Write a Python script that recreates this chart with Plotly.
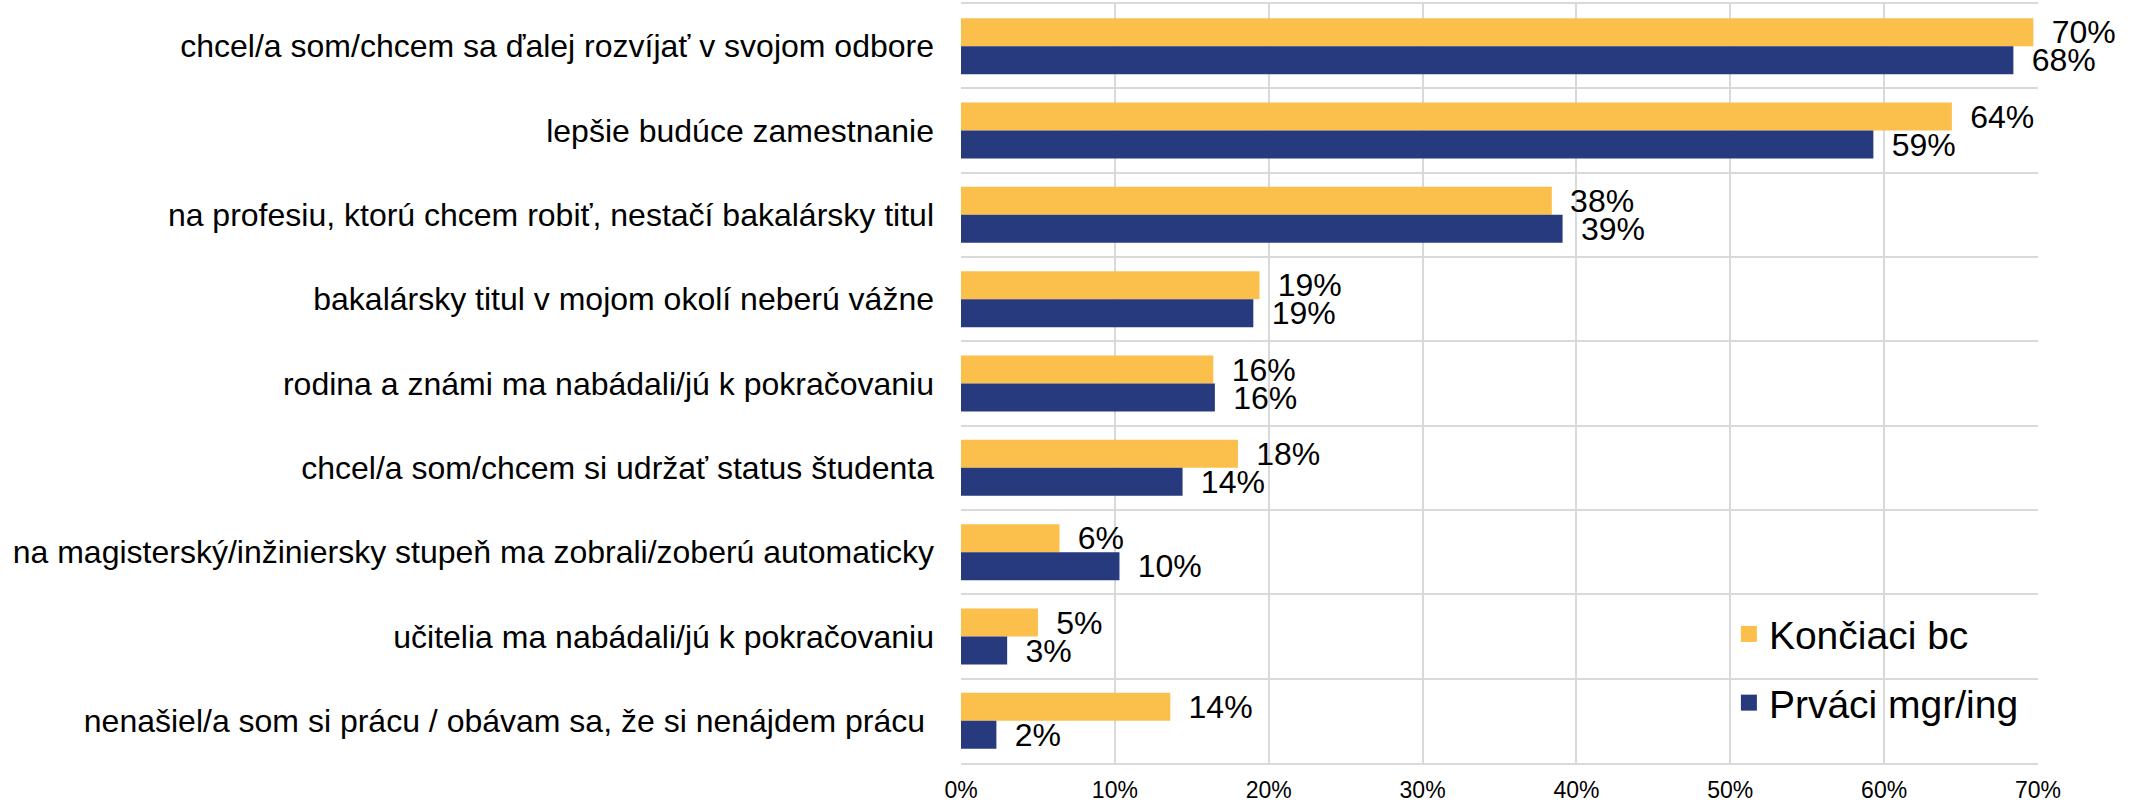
import plotly.graph_objects as go

categories = [
    "chcel/a som/chcem sa ďalej rozvíjať v svojom odbore",
    "lepšie budúce zamestnanie",
    "na profesiu, ktorú chcem robiť, nestačí bakalársky titul",
    "bakalársky titul v mojom okolí neberú vážne",
    "rodina a známi ma nabádali/jú k pokračovaniu",
    "chcel/a som/chcem si udržať status študenta",
    "na magisterský/inžiniersky stupeň ma zobrali/zoberú automaticky",
    "učitelia ma nabádali/jú k pokračovaniu",
    "nenašiel/a som si prácu / obávam sa, že si nenájdem prácu ",
]
koncaci_bc = [69.7, 64.4, 38.4, 19.4, 16.4, 18.0, 6.4, 5.0, 13.6]
prvaci_mgr = [68.4, 59.3, 39.1, 19.0, 16.5, 14.4, 10.3, 3.0, 2.3]
series_names = ["Končiaci bc", "Prváci mgr/ing"]
x_ticks = [0, 10, 20, 30, 40, 50, 60, 70]
x_ticktext = [f"{t}%" for t in x_ticks]

colors = ["#FBBF4C", "#283A7E"]
FONT = "Arial, 'Liberation Sans', sans-serif"
pos = list(range(len(categories)))

fig = go.Figure()
for name, vals, col in zip(series_names, [koncaci_bc, prvaci_mgr], colors):
    fig.add_trace(go.Bar(
        y=pos, x=vals, orientation="h", name=name, legendgroup=name,
        showlegend=False,
        marker=dict(color=col, line=dict(width=0)),
        text=[f"\u00a0\u2009{round(v)}%" for v in vals],
        textposition="outside", constraintext="none", cliponaxis=False,
        textfont=dict(family=FONT, size=32, color="#000000"),
        hoverinfo="x+name",
    ))
# legend entries with larger square keys
for name, col in zip(series_names, colors):
    fig.add_trace(go.Scatter(
        x=[None], y=[None], mode="markers", name=name, legendgroup=name,
        marker=dict(symbol="square", size=21, color=col), hoverinfo="skip",
    ))

fig.update_layout(
    width=2138, height=804,
    margin=dict(l=961, r=100, t=4, b=41),
    paper_bgcolor="white", plot_bgcolor="white",
    barmode="group", bargap=0.336, bargroupgap=0,
    font=dict(family=FONT, color="#000000"),
    legend=dict(
        x=0.713, y=0.212, xanchor="left", yanchor="top",
        font=dict(family=FONT, size=39, color="#000000"),
        bgcolor="rgba(0,0,0,0)", traceorder="grouped", tracegroupgap=15,
    ),
    showlegend=True,
)
fig.update_xaxes(
    range=[0, 70], tickvals=x_ticks, ticktext=x_ticktext, automargin=False,
    showgrid=True, gridcolor="#D9D9D9", gridwidth=2,
    zeroline=False, showline=True, linecolor="#D9D9D9", linewidth=2, mirror=True,
    tickfont=dict(family=FONT, size=23, color="#000000"),
    ticklabelstandoff=5,
)
fig.update_yaxes(
    range=[len(categories) - 0.5, -0.5], tickvals=pos, ticktext=categories,
    automargin=False, showgrid=False, zeroline=False,
    minor=dict(tick0=0.5, dtick=1, showgrid=True, gridcolor="#D9D9D9", gridwidth=2),
    tickfont=dict(family=FONT, size=32, color="#000000"),
    ticklabelstandoff=26,
)

fig.write_html(
    "out.html",
    config={"displayModeBar": False},
    post_script="document.body.style.margin='0px';",
)
